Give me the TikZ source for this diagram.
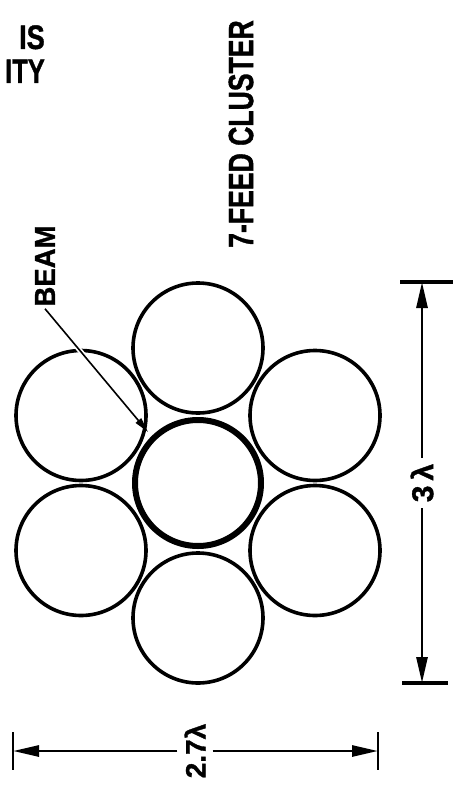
\documentclass[tikz,border=0pt]{standalone}
\usepackage{fontspec}
\setmainfont{Liberation Sans}[BoldFeatures={FakeBold=1.2}]
\usetikzlibrary{arrows.meta}
\begin{document}
\begin{tikzpicture}[x=1pt,y=-1pt,
  feed/.style={circle,draw,line width=3.6pt,minimum size=130pt,inner sep=0pt},
  beamfeed/.style={circle,draw,line width=6pt,minimum size=126pt,inner sep=0pt},
  dimline/.style={line width=2.8pt,-{Triangle[length=26pt,width=11pt]}},
  tickmark/.style={line width=3.4pt},
  thintick/.style={line width=2.5pt},
  beamarrow/.style={line width=1.6pt,-{Triangle[length=15pt,width=7pt]}},
]
\useasboundingbox (0,0) rectangle (463,802);
% stamp fragment (cropped)
\node[anchor=base east, inner sep=0pt, font=\bfseries\fontsize{34}{34}\selectfont] (stamp1) at (45,49) {\scalebox{0.8}[1]{IS}};
\node[anchor=base east, inner sep=0pt, font=\bfseries\fontsize{34}{34}\selectfont] (stamp2) at (45,83) {\scalebox{0.75}[1]{ITY}};
% title
\node[rotate=90, inner sep=0pt, font=\bfseries\fontsize{35}{35}\selectfont] (title) at (241,134) {\scalebox{0.76}[1]{7-FEED CLUSTER}};
% feeds
\node[feed] (ct) at (198,348) {};
\node[feed] (cb) at (198,618) {};
\node[feed] (cul) at (81,415.5) {};
\node[feed] (cll) at (81,550.5) {};
\node[feed] (cur) at (315,415.5) {};
\node[feed] (clr) at (315,550.5) {};
\node[beamfeed] (c0) at (198,483) {};
% beam label
\node[rotate=90, inner sep=2pt, font=\bfseries\fontsize{29}{29}\selectfont] (beam) at (45,266) {\scalebox{0.95}[1]{BEAM}};
\coordinate (beamtip) at (148,432);
\draw[white, line width=5pt, shorten >=45pt] (beam.west) -- (beamtip);
\draw[beamarrow] (beam.west) -- (beamtip);
% 3 lambda dimension
\node[rotate=90, inner sep=6pt, font=\bfseries\fontsize{30}{30}\selectfont] (l3) at (422,483) {3\,λ};
\coordinate (d3a) at (422,282);
\coordinate (d3b) at (422,683);
\draw[dimline] (l3) -- (d3a);
\draw[dimline] (l3) -- (d3b);
\draw[tickmark] ([xshift=-22pt]d3a) -- ([xshift=31pt]d3a);
\draw[tickmark] ([xshift=-20pt]d3b) -- ([xshift=26pt]d3b);
% 2.7 lambda dimension
\node[rotate=90, inner sep=7pt, font=\bfseries\fontsize{28}{28}\selectfont] (l27) at (195,751) {2.7λ};
\coordinate (d27a) at (13,751);
\coordinate (d27b) at (378,751);
\draw[dimline] (l27) -- (d27a);
\draw[dimline] (l27) -- (d27b);
\draw[thintick] ([yshift=19pt]d27a) -- ([yshift=-19pt]d27a);
\draw[thintick] ([yshift=19pt]d27b) -- ([yshift=-19pt]d27b);
\end{tikzpicture}
\end{document}
